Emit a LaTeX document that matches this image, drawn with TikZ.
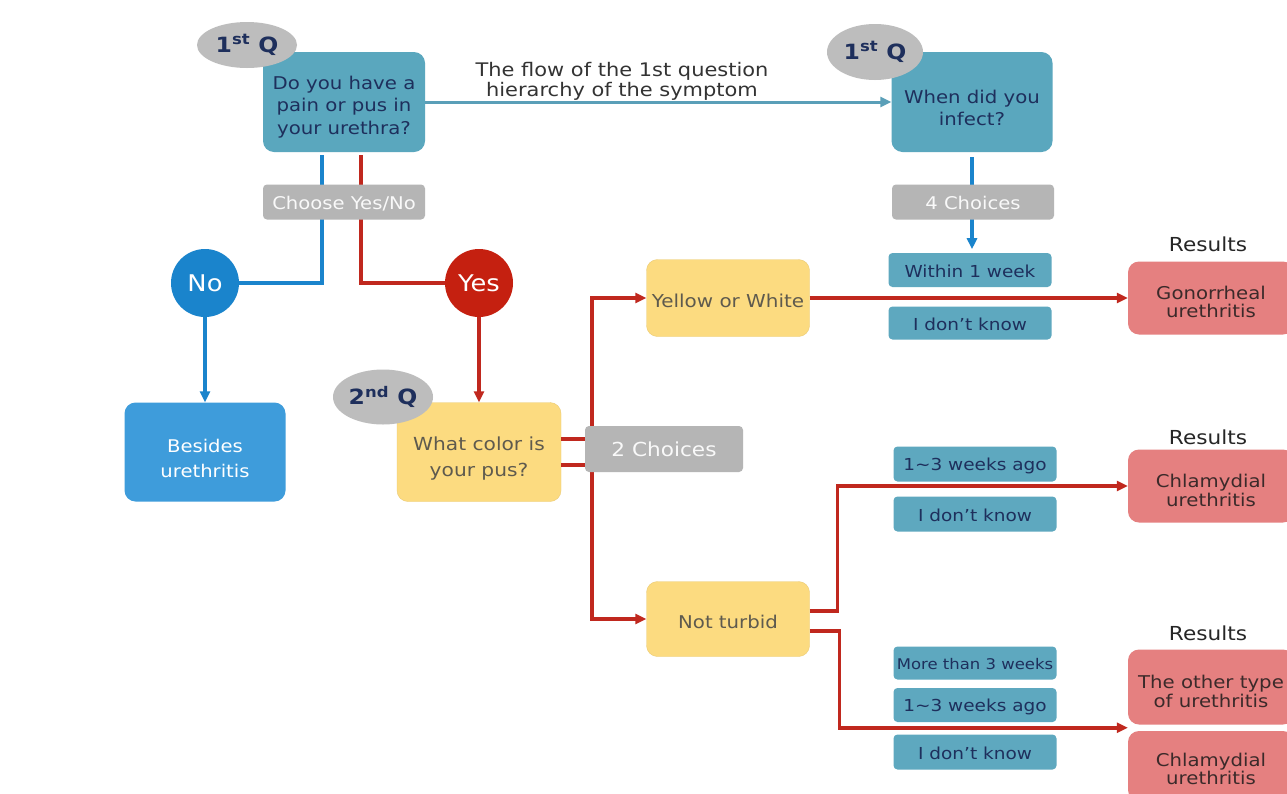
\documentclass[tikz,border=0pt]{standalone}
\usepackage{fontspec}
\setmainfont{DejaVu Sans}[FakeStretch=1.12]
\usetikzlibrary{arrows.meta,calc,shapes.geometric}
\definecolor{tealQ}{HTML}{5AA7BE}
\definecolor{tealC}{HTML}{5EA8BF}
\definecolor{navy}{HTML}{1E2F5C}
\definecolor{greyB}{HTML}{B5B5B5}
\definecolor{greyE}{HTML}{BDBDBD}
\definecolor{blueC}{HTML}{1A84CC}
\definecolor{blueB}{HTML}{3E9CDB}
\definecolor{redC}{HTML}{C52010}
\definecolor{redL}{HTML}{C0281E}
\definecolor{yel}{HTML}{FCDB80}
\definecolor{yelD}{HTML}{EBCB75}
\definecolor{pinkR}{HTML}{E58080}
\definecolor{darkT}{HTML}{3B2A2A}
\definecolor{ytext}{HTML}{5E5A4E}
\definecolor{tealLine}{HTML}{5A9FB8}
\newcommand\dn[1]{\rule{0pt}{\dimexpr 0.73em+#1\relax}}
\begin{document}
\begin{tikzpicture}[x=1pt,y=-1pt,
  qbox/.style={rounded corners=11pt, fill=tealQ, text=navy, align=center,
    font=\fontsize{17.6}{22.5}\selectfont},
  chbox/.style={rounded corners=4pt, fill=tealC, text=navy, align=center,
    minimum width=163pt, font=\fontsize{16.5}{18}\selectfont},
  gbox/.style={rounded corners=4pt, fill=greyB, text=white!92!greyB, align=center,
    font=\fontsize{17.5}{20}\selectfont},
  ybox/.style={rounded corners=11pt, fill=yel, draw=yelD, text=ytext, align=center,
    minimum width=163pt, font=\fontsize{17.8}{21}\selectfont},
  rbox/.style={rounded corners=11pt, fill=pinkR, text=darkT, align=center,
    minimum width=166pt, font=\fontsize{17.6}{18.5}\selectfont},
  qell/.style={ellipse, fill=greyE, text=navy, font=\bfseries\fontsize{21}{24}\selectfont, inner sep=0pt},
  circ/.style={circle, minimum size=68pt, inner sep=0pt, text=white, font=\fontsize{23}{26}\selectfont},
  reslbl/.style={text=black!85, font=\fontsize{19.3}{22}\selectfont},
  tln/.style={draw=tealLine, line width=3pt},
  bln/.style={draw=blueC, line width=3.5pt},
  rln/.style={draw=redL, line width=3.5pt},
  tip/.style={-{Triangle[length=11pt,width=10pt]}}
]
\useasboundingbox[fill=white] (0,0) rectangle (1287,793);

% nodes
\node[qbox, minimum width=162pt, minimum height=100pt] (q1) at (344,102) {\dn{10pt}Do you have a\\pain or pus in\\your urethra?};
\node[qell, minimum width=100pt, minimum height=46pt] (e1) at (247,45) {1\textsuperscript{st} Q};
\node[text=black!80, align=center, font=\fontsize{18.7}{20}\selectfont] (flow) at (622,81) {The flow of the 1st question\\hierarchy of the symptom};
\node[qbox, minimum width=161pt, minimum height=100pt] (q1b) at (972,102) {\dn{12pt}When did you\\infect?};
\node[qell, minimum width=96pt, minimum height=56pt] (e2) at (875,52) {1\textsuperscript{st} Q};

\node[circ, fill=blueC] (no) at (205,283) {No};
\node[circ, fill=redC] (yes) at (479,283) {Yes};
\node[rounded corners=11pt, fill=blueB, text=white, align=center, minimum width=161pt, minimum height=99pt,
  font=\fontsize{17.5}{25}\selectfont] (besides) at (205,452) {\dn{14pt}Besides\\urethritis};
\node[ybox, minimum width=164pt, minimum height=99pt, font=\fontsize{18}{26}\selectfont] (color) at (479,452) {\dn{14pt}What color is\\your pus?};
\node[qell, minimum width=100pt, minimum height=55pt] (e3) at (383,397) {2\textsuperscript{nd} Q};

\node[ybox, minimum height=77pt] (yw) at (728,298) {\dn{6pt}Yellow or White};
\node[ybox, minimum height=75pt, font=\fontsize{17.6}{21}\selectfont] (nt) at (728,619) {\dn{6pt}Not turbid};

\node[reslbl] (r1) at (1208,244) {Results};
\node[rbox, minimum height=73pt] (gon) at (1211,298) {\dn{8pt}Gonorrheal\\urethritis};
\node[reslbl] (r2) at (1208,437) {Results};
\node[rbox, minimum height=73pt] (chl1) at (1211,486) {\dn{9pt}Chlamydial\\urethritis};
\node[reslbl] (r3) at (1208,633) {Results};
\node[rbox, minimum height=75pt] (other) at (1211,687) {\dn{9pt}The other type\\of urethritis};
\node[rbox, minimum height=70pt] (chl2) at (1211,766) {\dn{6pt}Chlamydial\\urethritis};
\coordinate (join) at ($(other.south west)!0.5!(chl2.north west)$);

% connectors (drawn before the boxes that sit on them)
\draw[tln, tip] (q1.east) -- (q1b.west);
\draw[bln] ([xshift=-22pt,yshift=-3pt]q1.south) |- (no.east);
\draw[rln] ([xshift=17pt,yshift=-3pt]q1.south) |- (yes.west);
\draw[bln, tip] (no.south) -- (besides.north);
\draw[rln, tip] (yes.south) -- (color.north);
\draw[bln, tip] ([yshift=-5pt]q1b.south) -- ++(0,92);
\draw[rln, tip] ([yshift=13pt]color.east) -- ++(31,0) |- (yw.west);
\draw[rln, tip] ([yshift=-13pt]color.east) -- ++(31,0) |- (nt.west);
\draw[rln, tip] (yw.east) -- (gon.west);
\draw[rln, tip] ([yshift=8pt]nt.east) -- ++(28,0) |- (chl1.west);
\draw[rln, tip] ([yshift=-12pt]nt.east) -- ++(30,0) |- (join);

% boxes on top of lines
\node[gbox, minimum width=162pt, minimum height=35pt] (choose) at (344,202) {\dn{3pt}Choose Yes/No};
\node[gbox, minimum width=162pt, minimum height=35pt] (four) at (973,202) {\dn{3pt}4 Choices};
\node[gbox, minimum width=158pt, minimum height=46pt, font=\fontsize{19.3}{22}\selectfont] (two) at (664,449) {2 Choices};

\node[chbox, minimum height=34pt] (w1) at (970,270) {\dn{4pt}Within 1 week};
\node[chbox, minimum height=33pt] (dk1) at (970,323) {\dn{4pt}I don’t know};
\node[chbox, minimum height=35pt] (c13a) at (975,464) {\dn{4pt}1∼3 weeks ago};
\node[chbox, minimum height=35pt] (dk2) at (975,514) {\dn{4pt}I don’t know};
\node[chbox, minimum height=33pt, font=\fontsize{14.7}{16}\selectfont] (mt3) at (975,663) {\dn{3pt}More than 3 weeks};
\node[chbox, minimum height=34pt] (c13b) at (975,705) {\dn{4pt}1∼3 weeks ago};
\node[chbox, minimum height=35pt] (dk3) at (975,752) {\dn{4pt}I don’t know};
\end{tikzpicture}
\end{document}
